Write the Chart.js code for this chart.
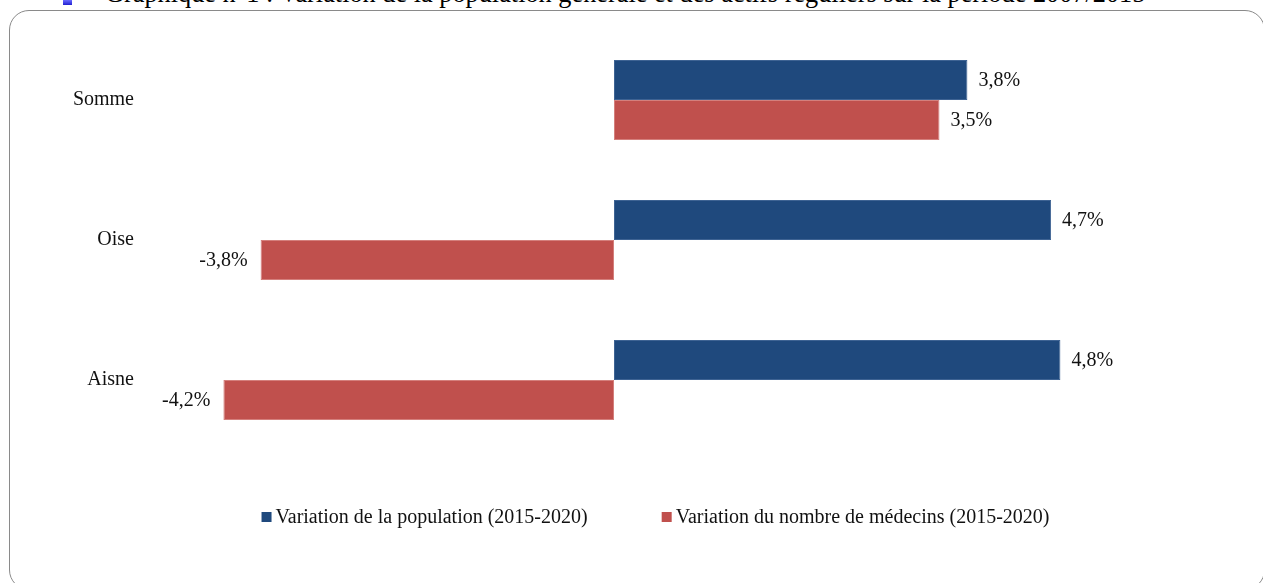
<!DOCTYPE html>
<html>
<head>
<meta charset="utf-8">
<script src="https://cdn.jsdelivr.net/npm/chart.js@4.4.1/dist/chart.umd.min.js"></script>
<style>
  html, body { margin: 0; padding: 0; background: #fff; overflow: hidden; }
  body { width: 1263px; height: 583px; position: relative; }
  #title { position: absolute; left: 105px; top: -19px; font-family: "Liberation Serif", serif; font-size: 26.3px; line-height: 26px; color: #000; white-space: nowrap; }
  #bullet { position: absolute; left: 63px; top: 0px; width: 9px; height: 5px; background: linear-gradient(#6a6aff, #2020d0); }
  #frame { position: absolute; left: 9px; top: 10px; width: 1256px; height: 580px; border: 1.5px solid #8a8a8a; border-radius: 20px; box-sizing: border-box; }
  #wrap { position: absolute; left: 0; top: 0; width: 1263px; height: 583px; }
</style>
</head>
<body>
<div id="bullet"></div>
<div id="title">Graphique n°1 : Variation de la population générale et des actifs réguliers sur la période 2007/2015</div>
<div id="frame"></div>
<div id="wrap"><canvas id="c" width="1263" height="583"></canvas></div>
<script>
const categories = ['Somme', 'Oise', 'Aisne'];
const populationVariation = [3.8, 4.7, 4.8];
const medecinsVariation = [3.5, -3.8, -4.2];
const seriesNames = ['Variation de la population (2015-2020)', 'Variation du nombre de médecins (2015-2020)'];
const axisMin = -5;
const axisMax = 5;

const FONT = '"Liberation Serif", "Times New Roman", serif';
const FSIZE = 20;

function fmt(v) { return v.toFixed(1).replace('.', ',') + '%'; }

const valueLabels = {
  id: 'valueLabels',
  afterDatasetsDraw(chart) {
    const ctx = chart.ctx;
    ctx.save();
    ctx.font = FSIZE + 'px ' + FONT;
    ctx.fillStyle = '#111';
    ctx.textBaseline = 'middle';
    chart.data.datasets.forEach((ds, di) => {
      chart.getDatasetMeta(di).data.forEach((bar, i) => {
        const v = ds.data[i];
        if (v >= 0) { ctx.textAlign = 'left'; ctx.fillText(fmt(v), bar.x + 11, bar.y + 1); }
        else { ctx.textAlign = 'right'; ctx.fillText(fmt(v), bar.x - 13, bar.y + 1); }
      });
    });
    ctx.restore();
  }
};

const customLegend = {
  id: 'customLegend',
  afterDraw(chart) {
    const ctx = chart.ctx;
    ctx.save();
    ctx.font = FSIZE + 'px ' + FONT;
    ctx.textBaseline = 'middle';
    ctx.textAlign = 'left';
    const box = 10, gap = 4, spacing = 74, cy = 517, center = 655.5;
    const items = chart.data.datasets.map(d => ({ text: d.label, color: d.backgroundColor, w: ctx.measureText(d.label).width }));
    let total = items.reduce((s, it) => s + box + gap + it.w, 0) + spacing * (items.length - 1);
    let x = center - total / 2;
    items.forEach(it => {
      ctx.fillStyle = it.color;
      ctx.fillRect(x, cy - box / 2, box, box);
      ctx.fillStyle = '#111';
      ctx.fillText(it.text, x + box + gap, cy + 1);
      x += box + gap + it.w + spacing;
    });
    ctx.restore();
  }
};

new Chart(document.getElementById('c'), {
  type: 'bar',
  data: {
    labels: categories,
    datasets: [
      { label: seriesNames[0], data: populationVariation, backgroundColor: '#1F497D', borderColor: '#3E6393', borderWidth: 1, borderSkipped: false },
      { label: seriesNames[1], data: medecinsVariation, backgroundColor: '#C0504D', borderColor: '#D47F7C', borderWidth: 1, borderSkipped: false }
    ]
  },
  options: {
    indexAxis: 'y',
    responsive: false,
    animation: false,
    devicePixelRatio: 1,
    categoryPercentage: 80 / 140,
    barPercentage: 1,
    layout: { padding: { left: 0, right: 184, top: 30, bottom: 133 } },
    plugins: { legend: { display: false }, tooltip: { enabled: false } },
    scales: {
      x: { display: false, min: axisMin, max: axisMax },
      y: {
        grid: { display: false, drawTicks: false },
        border: { display: false },
        ticks: { padding: 15, color: '#111', font: { family: FONT, size: FSIZE } },
        afterFit(scale) { scale.width = 149; }
      }
    }
  },
  plugins: [valueLabels, customLegend]
});
</script>
</body>
</html>
